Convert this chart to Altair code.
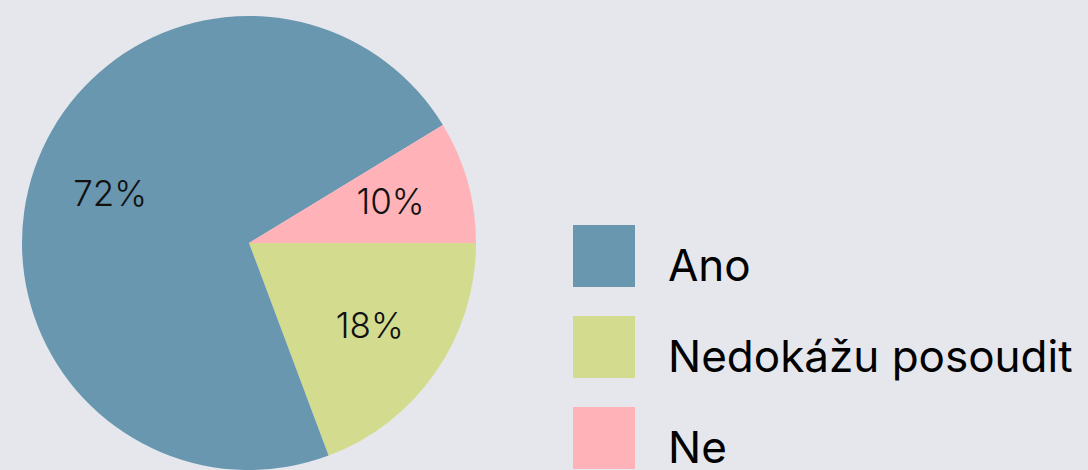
import altair as alt
import pandas as pd
import math

categories = ["Nedokážu posoudit", "Ano", "Ne"]
values = [19.3, 72.0, 8.7]
labels = ["18%", "72%", "10%"]
legend_order = ["Ano", "Nedokážu posoudit", "Ne"]
colors = ["#6a97b0", "#d3dc8e", "#ffb3b8"]

df = pd.DataFrame({
    "cat": categories,
    "val": values,
    "lab": labels,
    "ord": list(range(len(categories))),
})

theta = alt.Theta("val:Q", stack=True,
                  scale=alt.Scale(range=[math.pi / 2, math.pi / 2 + 2 * math.pi]))

base = alt.Chart(df).encode(
    theta=theta,
    order=alt.Order("ord:Q", sort="ascending"),
)

pie = base.mark_arc(outerRadius=227).encode(
    x=alt.value(249),
    y=alt.value(243),
    color=alt.Color(
        "cat:N",
        scale=alt.Scale(domain=legend_order, range=colors),
        legend=alt.Legend(
            title=None,
            orient="none",
            legendX=573,
            legendY=237,
            symbolType="M-1,-1.39H1V0.61H-1Z",
            symbolSize=3844,
            symbolStrokeWidth=0,
            symbolOpacity=1,
            labelFontSize=44,
            labelFont="Inter",
            labelColor="#000000",
            labelOffset=33,
            rowPadding=25,
            labelLimit=600,
        ),
    ),
)

text = base.mark_text(radius=147, fontSize=35, font="Inter", fontWeight=300,
                      color="#111111").encode(
    x=alt.value(249),
    y=alt.value(243),
    text="lab:N",
)

chart = (pie + text).properties(
    width=1088,
    height=470,
    background="#e5e7ec",
    padding=0,
    autosize=alt.AutoSizeParams(type="none"),
).configure_view(stroke=None)

chart.save("out.html", embed_options={"renderer": "svg", "actions": False})
